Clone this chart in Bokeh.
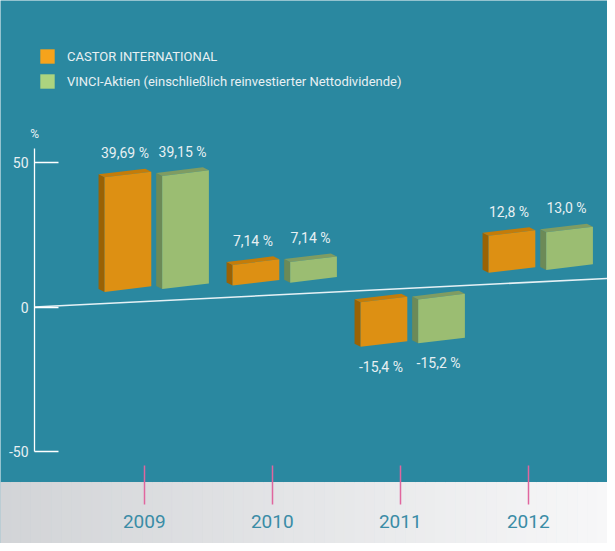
from bokeh.plotting import figure
from bokeh.models import LinearAxis, FixedTicker, Legend, LegendItem, ColumnDataSource, Range1d
from bokeh.core.properties import value
from bokeh.embed import file_html
from bokeh.resources import INLINE
import numpy as np

# ---------------- data ----------------
years = [2009, 2010, 2011, 2012]
castor = [39.69, 7.14, -15.4, 12.8]
vinci = [39.15, 7.14, -15.2, 13.0]
castor_labels = ["39,69 %", "7,14 %", "-15,4 %", "12,8 %"]
vinci_labels = ["39,15 %", "7,14 %", "-15,2 %", "13,0 %"]
y_ticks = [-50, 0, 50]
y_tick_labels = ["-50", "0", "50"]
series_names = ["CASTOR INTERNATIONAL",
                "VINCI-Aktien (einschließlich reinvestierter Nettodividende)"]

# ---------------- style ----------------
FONT = "Roboto"
TEAL = "#2a88a0"
TXT = "#e8f0f3"
ORANGE = dict(front="#dd9013", side="#9a6204", top="#c47c09", legend="#f6a31b")
GREEN = dict(front="#9bbd72", side="#6c8a57", top="#7f9c62", legend="#acd47f")

W, H = 607, 543
X0, X1 = 2007.877, 2012.619
Y0, Y1 = -81.83, 106.06
AXIS_X = 2008.143          # position of the vertical value axis
BASE_TILT = 2.21           # perspective tilt of the zero line (y units per x unit)
BAR_TILT = 5.3             # tilt of bar edges
GAP = 4.0                  # bars float slightly off the zero plane
DX, DY = 0.047, 1.04       # 3D depth offset
ORANGE_POS = (-0.31, 0.055)
GREEN_POS = (0.14, 0.505)
YEAR_AXIS_Y = -54.74
BAND_TOP = -60.72

p = figure(width=W, height=H, x_range=Range1d(X0, X1), y_range=Range1d(Y0, Y1),
           output_backend="svg", toolbar_location=None,
           x_axis_location=None, y_axis_location=None, min_border=0,
           background_fill_color=TEAL, border_fill_color=TEAL,
           outline_line_color=None)
p.grid.visible = False

# grey band at the bottom (horizontal gradient)
n = 60
edges = np.linspace(X0, X1, n + 1)
c0 = np.array([210, 212, 215]); c1 = np.array([247, 247, 248])
cols = ["#%02x%02x%02x" % tuple(np.round(c0 + (c1 - c0) * t).astype(int))
        for t in np.linspace(0, 1, n)]
p.quad(left=edges[:-1], right=edges[1:], bottom=Y0, top=BAND_TOP,
       fill_color=cols, line_color=cols)

# zero line (perspective)
zx = [AXIS_X, X1]
p.line(zx, [BASE_TILT * (x - AXIS_X) for x in zx], line_color="#e6f1f5", line_width=1.6)


def bars(vals, pos):
    lo, hi = pos
    front_x, front_y, side_x, side_y, top_x, top_y = [], [], [], [], [], []
    lx, ly, loff = [], [], []
    for yr, v in zip(years, vals):
        xl, xr = yr + lo, yr + hi
        rise = BAR_TILT * (xr - xl)
        base = BASE_TILT * (xl - AXIS_X)
        s = 1 if v >= 0 else -1
        y0 = base + GAP * s
        y1 = y0 + v
        top = max(y0, y1)
        front_x.append([xl, xr, xr, xl]); front_y.append([y0, y0 + rise, y1 + rise, y1])
        side_x.append([xl, xl, xl - DX, xl - DX]); side_y.append([y0, y1, y1 + DY, y0 + DY])
        top_x.append([xl, xr, xr - DX, xl - DX]); top_y.append([top, top + rise, top + rise + DY, top + DY])
        lx.append((xl - DX + xr) / 2)
        ly.append(y1)
        loff.append(-24 if v >= 0 else 20)
    return front_x, front_y, side_x, side_y, top_x, top_y, lx, ly, loff


for vals, pos, col, labs in [(castor, ORANGE_POS, ORANGE, castor_labels),
                             (vinci, GREEN_POS, GREEN, vinci_labels)]:
    fx, fy, sx, sy, tx, ty, lx, ly, loff = bars(vals, pos)
    p.patches(sx, sy, fill_color=col["side"], line_color=None)
    p.patches(tx, ty, fill_color=col["top"], line_color=None)
    p.patches(fx, fy, fill_color=col["front"], line_color=None)
    src = ColumnDataSource(dict(x=lx, y=ly, t=labs, off=loff))
    p.text(x="x", y="y", text="t", y_offset="off", source=src, text_align="center",
           text_baseline="middle", text_color=TXT, text_font=value(FONT),
           text_font_size="14px")

# "%" unit label
p.text(x=[AXIS_X], y=[59.8], text=["%"], text_align="center", text_baseline="middle",
       text_color=TXT, text_font=value(FONT), text_font_size="12px")

# value axis
yax = LinearAxis(fixed_location=AXIS_X, ticker=FixedTicker(ticks=y_ticks), bounds=(-50, 55))
yax.major_label_overrides = {t: s for t, s in zip(y_ticks, y_tick_labels)}
yax.major_tick_in = 24
yax.major_tick_out = 0
yax.minor_tick_line_color = None
yax.axis_line_color = "white"
yax.axis_line_width = 1.3
yax.major_tick_line_color = "white"
yax.major_tick_line_width = 1.3
yax.major_label_text_color = TXT
yax.major_label_text_font = FONT
yax.major_label_text_font_size = "14px"
yax.major_label_standoff = 6
p.add_layout(yax, "left")

# year axis
xax = LinearAxis(fixed_location=YEAR_AXIS_Y, ticker=FixedTicker(ticks=years))
xax.axis_line_color = None
xax.minor_tick_line_color = None
xax.major_tick_in = 0
xax.major_tick_out = 39
xax.major_tick_line_color = "#e0669e"
xax.major_tick_line_width = 1.5
xax.major_label_standoff = 11
xax.major_label_text_color = "#3a8ca6"
xax.major_label_text_font = FONT
xax.major_label_text_font_size = "19px"
p.add_layout(xax, "below")

# legend (proxy glyphs carry the legend colours, drawn nowhere)
r1 = p.quad(left=[np.nan], right=[np.nan], top=[np.nan], bottom=[np.nan],
            fill_color=ORANGE["legend"], line_color=None)
r2 = p.quad(left=[np.nan], right=[np.nan], top=[np.nan], bottom=[np.nan],
            fill_color=GREEN["legend"], line_color=None)
legend = Legend(items=[LegendItem(label=series_names[0], renderers=[r1]),
                       LegendItem(label=series_names[1], renderers=[r2])],
                location=(38, 453), orientation="vertical",
                glyph_width=18, glyph_height=18, label_height=18, spacing=7,
                label_standoff=11, padding=0, margin=0,
                background_fill_alpha=0, border_line_color=None,
                label_text_color=TXT, label_text_font=FONT, label_text_font_size="13px")
p.add_layout(legend, "center")

open("out.html", "w").write(file_html(p, INLINE))
